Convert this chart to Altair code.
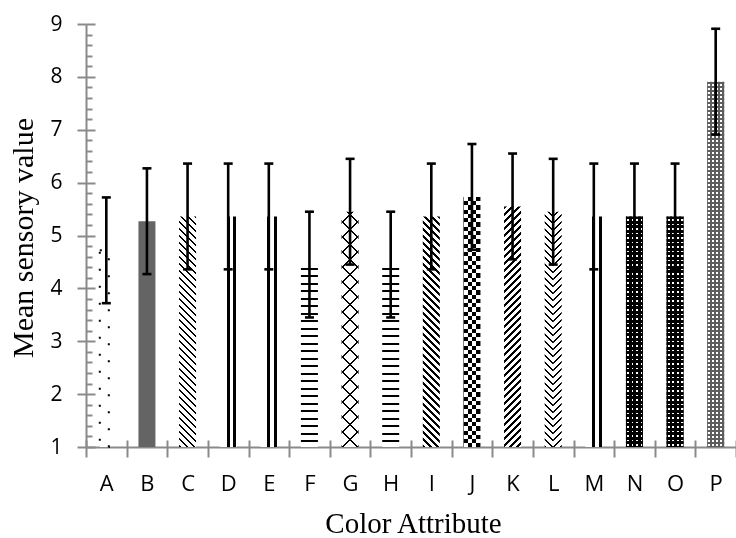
import altair as alt
import pandas as pd

# ---------------- data ----------------
categories = ["A", "B", "C", "D", "E", "F", "G", "H", "I", "J", "K", "L", "M", "N", "O", "P"]
means = [4.72, 5.27, 5.36, 5.36, 5.36, 4.45, 5.45, 4.45, 5.36, 5.73, 5.55, 5.45, 5.36, 5.36, 5.36, 7.91]
errors = [1.0, 1.0, 1.0, 1.0, 1.0, 1.0, 1.0, 1.0, 1.0, 1.0, 1.0, 1.0, 1.0, 1.0, 1.0, 1.0]
y_ticks = [1, 2, 3, 4, 5, 6, 7, 8, 9]
y_minor = [round(1 + 0.2 * i, 1) for i in range(41) if i % 5 != 0]

df = pd.DataFrame({"cat": categories, "mean": means, "err": errors})
df["lo"] = df["mean"] - df["err"]
df["hi"] = df["mean"] + df["err"]

# ---------------- layout / style ----------------
W, H = 650, 423
Y_DOMAIN = [1, 9]
BAR = 17.0
PX = H / (Y_DOMAIN[1] - Y_DOMAIN[0])
GRAY = "#8a8a8a"
BLACK = "#000000"
WHITE = "#ffffff"
CLEAR = "rgba(0,0,0,0)"
PGRAY = "#5e5e5e"


def bar_h(cat):
    return (means[categories.index(cat)] - Y_DOMAIN[0]) * PX


def periodic(cmax, period, dark, phase=0.0):
    out = []
    start = (phase % period) - period
    while start < cmax:
        a, b = max(start, 0.0), min(start + dark, cmax)
        if b > a:
            out.append((a, b))
        start += period
    return out


def grad(kind, h, intervals, on, off, w=BAR):
    if kind == "v":
        vec = dict(x1=0, y1=0, x2=1, y2=0)
        cmax, k = w, 1.0 / w
    elif kind == "h":
        vec = dict(x1=0, y1=0, x2=0, y2=1)
        cmax, k = h, 1.0 / h
    else:
        t = h / w
        k = 1.0 / (w * (1 + t * t))
        cmax = w + h
        if kind == "fwd":
            vec = dict(x1=0, y1=0, x2=1, y2=t)
        else:
            vec = dict(x1=0, y1=1, x2=1, y2=1 - t)
    stops = [(0.0, off)]
    for a, b in intervals:
        stops += [(a * k, off), (a * k, on), (b * k, on), (b * k, off)]
    stops.append((cmax * k, off))
    return {"gradient": "linear", **vec,
            "stops": [{"offset": round(min(max(o, 0.0), 1.0), 6), "color": c} for o, c in stops]}


XS = alt.Scale(type="band", domain=categories, paddingInner=0, paddingOuter=0)
YS = alt.Scale(domain=Y_DOMAIN, nice=False, zero=False)


def xenc(axis=None):
    return alt.X("cat:N", scale=XS, axis=axis, title=None)


def bar_layer(cats, fill, size=BAR, xoff=0.0, **kw):
    mk = dict(fill=fill, size=size, **kw)
    if xoff:
        mk["xOffset"] = xoff
    return (alt.Chart(df)
            .transform_filter(alt.FieldOneOfPredicate(field="cat", oneOf=cats))
            .mark_bar(**mk)
            .encode(x=xenc(), y=alt.Y("mean:Q", scale=YS, axis=None), y2=alt.datum(Y_DOMAIN[0])))


hC = bar_h("C")
hF = bar_h("F")
hG = bar_h("G")
hJ = bar_h("J")
hK = bar_h("K")
hL = bar_h("L")
hN = bar_h("N")
hP = bar_h("P")
HALF = BAR / 2

layers = [
    bar_layer(["A"], WHITE, size=9, xoff=-2, stroke=BLACK, strokeWidth=2, strokeDash=[2, 15]),
    bar_layer(["B"], "#646464"),
    bar_layer(["C", "I"], grad("back", hC, periodic(BAR + hC, 7, 2.4), BLACK, WHITE)),
    bar_layer(["D", "E", "M"], grad("v", hC, [(7.0, 10.0), (13.8, 16.8)], BLACK, WHITE)),
    bar_layer(["F", "H"], grad("h", hF, periodic(hF, 7.5, 2.0, phase=3), BLACK, WHITE)),
    bar_layer(["G"], grad("back", hG, periodic(BAR + hG, 15, 2.4), BLACK, WHITE)),
    bar_layer(["G"], grad("fwd", hG, periodic(BAR + hG, 15, 2.4, phase=(BAR + hG - 2.4) % 15), BLACK, CLEAR)),
    bar_layer(["J"], grad("v", hJ, periodic(BAR, 8.5, 4.25), BLACK, WHITE)),
    bar_layer(["J"], grad("h", hJ, periodic(hJ, 8.5, 4.25), WHITE, CLEAR), blend="difference"),
    bar_layer(["K"], grad("fwd", hK, periodic(BAR + hK, 7, 3), BLACK, WHITE)),
    bar_layer(["L"], grad("back", hL, periodic(HALF + hL, 7, 2.2), BLACK, WHITE, w=HALF), size=HALF, xoff=-HALF / 2),
    bar_layer(["L"], grad("fwd", hL, periodic(HALF + hL, 7, 2.2, phase=(HALF + hL - 2.2) % 7), BLACK, WHITE, w=HALF),
              size=HALF, xoff=HALF / 2),
    bar_layer(["N", "O"], grad("v", hN, periodic(BAR, 4.5, 1.8, phase=1.2), WHITE, BLACK)),
    bar_layer(["N", "O"], grad("h", hN, periodic(hN, 4.5, 2.7), BLACK, CLEAR)),
    bar_layer(["P"], grad("v", hP, periodic(BAR, 4, 1.2, phase=1.3), WHITE, PGRAY)),
    bar_layer(["P"], grad("h", hP, periodic(hP, 4, 2.8), PGRAY, CLEAR)),
]

axis_common = dict(tickColor=GRAY, tickWidth=2, grid=False)

main_x_axis = alt.Axis(
    orient="bottom", title="Color Attribute", titleFont="Liberation Serif", titleFontSize=29,
    titleFontWeight="normal", titleColor="black", titleBaseline="alphabetic", titleY=85, titleX=W / 2 + 2,
    labelFont="Open Sans", labelFontSize=22, labelColor="black", labelAngle=0, labelPadding=16,
    tickBand="extent", tickSize=10, domainColor=GRAY, domainWidth=2, **axis_common)
inner_x_axis = alt.Axis(orient="bottom", offset=-7, tickSize=7, labels=False, domain=False, title=None,
                        tickBand="extent", **axis_common)
main_y_axis = alt.Axis(
    orient="left", values=y_ticks, title="Mean sensory value", titleFont="Liberation Serif", titleFontSize=30,
    titleFontWeight="normal", titleColor="black", titleBaseline="alphabetic", titleX=-54, titleY=H / 2 + 2,
    labelFont="Open Sans", labelFontSize=21, labelColor="black", labelPadding=15, tickSize=9,
    domainColor=GRAY, domainWidth=2, **axis_common)
inner_y_axis = alt.Axis(orient="left", offset=-9, tickSize=9, values=y_ticks, labels=False, domain=False,
                        title=None, **axis_common)
minor_y_axis = alt.Axis(orient="left", offset=-6, tickSize=6, values=y_minor, labels=False, domain=False,
                        title=None, **axis_common)

rules = alt.Chart(df).mark_rule(color=BLACK, strokeWidth=2.6).encode(
    x=xenc(main_x_axis), y=alt.Y("lo:Q", scale=YS, axis=main_y_axis), y2="hi:Q")
cap_hi = alt.Chart(df).mark_tick(color=BLACK, size=9, thickness=2.6, opacity=1).encode(
    x=xenc(inner_x_axis), y=alt.Y("hi:Q", scale=YS, axis=minor_y_axis))
cap_lo = alt.Chart(df).mark_tick(color=BLACK, size=9, thickness=2.6, opacity=1).encode(
    x=xenc(), y=alt.Y("lo:Q", scale=YS, axis=inner_y_axis))

chart = (
    alt.layer(*layers, rules, cap_hi, cap_lo)
    .resolve_axis(x="independent", y="independent")
    .properties(width=W, height=H, padding={"left": 86, "top": 24, "right": 0, "bottom": 91},
                autosize=alt.AutoSizeParams(type="none"), background="white")
    .configure_view(stroke=None)
)

chart.save("out.html", embed_options={"renderer": "svg", "actions": False})
